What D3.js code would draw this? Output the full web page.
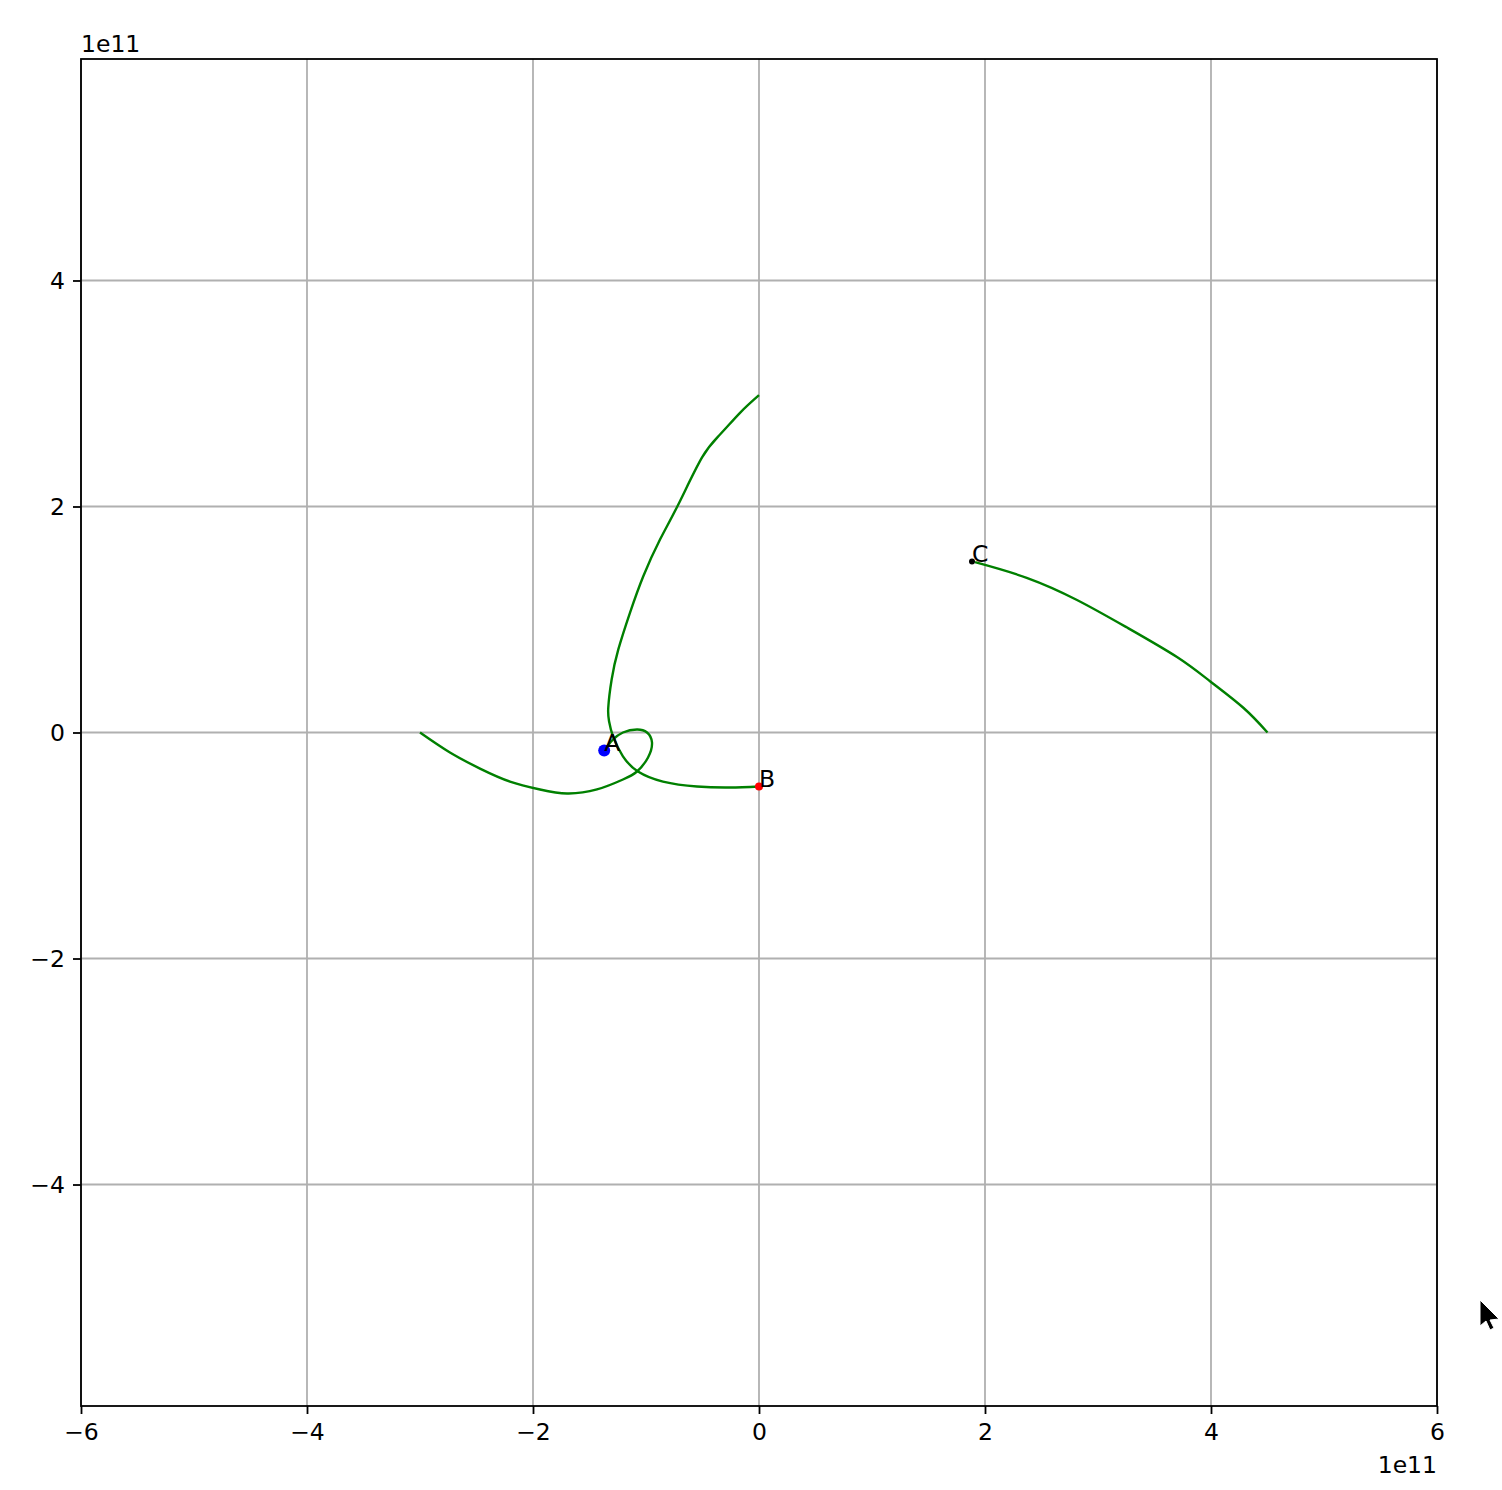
<!DOCTYPE html>
<html>
<head>
<meta charset="utf-8">
<script src="https://cdn.jsdelivr.net/npm/d3@7"></script>
<style>
  body { margin: 0; background: #fff; }
  text { font-family: "DejaVu Sans", sans-serif; }
</style>
</head>
<body>
<div id="chart"></div>
<script>
// trajectories, in units of 1e11
var pathA = [[-3.0, 0.0], [-2.735, -0.177], [-2.469, -0.319], [-2.204, -0.434], [-1.938, -0.504],
  [-1.699, -0.54], [-1.434, -0.504], [-1.204, -0.416], [-1.08, -0.345], [-0.982, -0.221],
  [-0.947, -0.088], [-0.991, 0.0], [-1.08, 0.027], [-1.204, 0.0], [-1.292, -0.062], [-1.336, -0.115]];
var pathB = [[0.0, 2.985], [-0.168, 2.829], [-0.345, 2.637], [-0.504, 2.434], [-0.714, 2.018],
  [-0.876, 1.708], [-1.024, 1.383], [-1.142, 1.059], [-1.245, 0.735], [-1.304, 0.469],
  [-1.334, 0.219], [-1.327, 0.1], [-1.292, -0.035], [-1.204, -0.212], [-1.071, -0.345],
  [-0.85, -0.434], [-0.549, -0.478], [-0.257, -0.487], [0.0, -0.478]];
var pathC = [[4.5, 0.0], [4.286, 0.219], [3.991, 0.454], [3.699, 0.668], [3.257, 0.929],
  [2.814, 1.173], [2.369, 1.369], [1.912, 1.507]];

var bodyNames = ["A", "B", "C"];
var bodyPos = [[-1.37, -0.16], [0.0, -0.478], [1.885, 1.513]];
var bodyColors = ["blue", "red", "black"];
var bodySizes = [6, 4, 3];

var xTicks = [-6, -4, -2, 0, 2, 4, 6];
var yTicks = [-4, -2, 0, 2, 4];

var W = 1502, H = 1490;
var mLeft = 81, mRight = 1437, mTop = 59, mBottom = 1406;
var fontPx = "23.5px";

var svg = d3.select("#chart").append("svg")
    .attr("width", W)
    .attr("height", H);

var x = d3.scaleLinear().domain([-6, 6]).range([mLeft, mRight]);
var y = d3.scaleLinear().domain([-5.96, 5.96]).range([mBottom, mTop]);
var fmt = d3.format("d");

// grid
svg.append("g").selectAll("line").data(xTicks).enter().append("line")
    .attr("x1", d => x(d)).attr("x2", d => x(d))
    .attr("y1", mTop).attr("y2", mBottom)
    .style("stroke", "#b0b0b0").style("stroke-width", 1.8);
svg.append("g").selectAll("line").data(yTicks).enter().append("line")
    .attr("x1", mLeft).attr("x2", mRight)
    .attr("y1", d => y(d)).attr("y2", d => y(d))
    .style("stroke", "#b0b0b0").style("stroke-width", 1.8);

// axes
var xAxis = svg.append("g")
    .attr("transform", "translate(0," + mBottom + ")")
    .call(d3.axisBottom(x).tickValues(xTicks).tickFormat(fmt).tickSize(8).tickPadding(8));
var yAxis = svg.append("g")
    .attr("transform", "translate(" + mLeft + ",0)")
    .call(d3.axisLeft(y).tickValues(yTicks).tickFormat(fmt).tickSize(8).tickPadding(8));
[xAxis, yAxis].forEach(function (a) {
    a.select(".domain").remove();
    a.selectAll("line").style("stroke", "#000").style("stroke-width", 1.8);
    a.selectAll("text").style("font-family", "DejaVu Sans").style("font-size", fontPx).style("fill", "#000");
});
xAxis.selectAll("text").attr("dy", "0.75em");

// trajectories
var line = d3.line()
    .x(d => x(d[0]))
    .y(d => y(d[1]))
    .curve(d3.curveNatural);
svg.append("g").selectAll("path").data([pathA, pathB, pathC]).enter().append("path")
    .attr("d", line)
    .style("fill", "none")
    .style("stroke", "green")
    .style("stroke-width", 2.4);

// bodies
svg.append("g").selectAll("circle").data(bodyPos).enter().append("circle")
    .attr("cx", d => x(d[0]))
    .attr("cy", d => y(d[1]))
    .attr("r", (d, i) => bodySizes[i])
    .style("fill", (d, i) => bodyColors[i]);
svg.append("g").selectAll("text").data(bodyPos).enter().append("text")
    .attr("x", d => x(d[0]))
    .attr("y", d => y(d[1]))
    .text((d, i) => bodyNames[i])
    .style("font-size", fontPx)
    .style("fill", "#000");

// frame
svg.append("rect")
    .attr("x", mLeft).attr("y", mTop)
    .attr("width", mRight - mLeft).attr("height", mBottom - mTop)
    .style("fill", "none").style("stroke", "#000").style("stroke-width", 1.8);

// offset labels
svg.append("text").attr("x", mLeft).attr("y", 52).text("1e11").style("font-size", fontPx);
svg.append("text").attr("x", mRight).attr("y", 1473).attr("text-anchor", "end").text("1e11").style("font-size", fontPx);

// mouse pointer left in the screenshot
svg.append("path")
    .attr("d", "M1480,1300 L1480,1326 L1486,1321 L1490,1330 L1494,1328 L1490,1320 L1499,1319 Z")
    .style("fill", "#000").style("stroke", "#fff").style("stroke-width", 1);
</script>
</body>
</html>
